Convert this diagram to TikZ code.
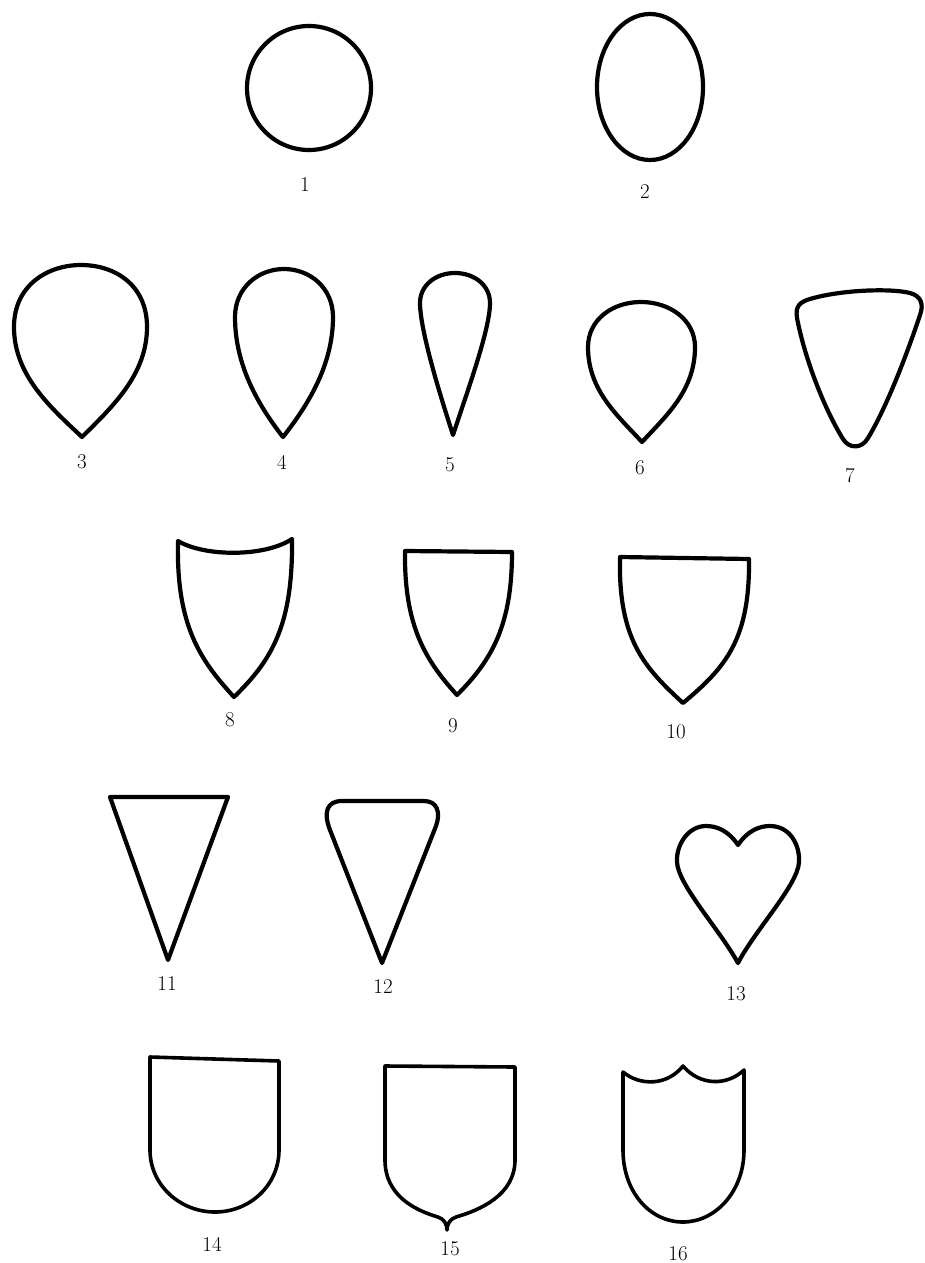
\documentclass[tikz,border=0pt]{standalone}
\begin{document}
\begin{tikzpicture}[x=1pt,y=-1pt,
  outline/.style={draw=black,line width=4.2pt,line join=round},
  thinline/.style={draw=black,line width=3.6pt,line join=round},
  lbl/.style={font=\fontsize{21}{24}\selectfont,inner sep=0pt}]
\useasboundingbox[fill=white] (0,0) rectangle (924,1263);
% row 1
\draw[outline] (309,88) circle [radius=62];
\node[lbl] (l1) at (305,185) {1};
\draw[outline] (650,87) ellipse [x radius=53, y radius=73];
\node[lbl] (l2) at (645,192) {2};
% row 2
\draw[outline] (82,437) .. controls (50,407) and (14,375) .. (14,327)
  .. controls (14,285) and (48,265) .. (81,265)
  .. controls (115,265) and (147,285) .. (147,327)
  .. controls (147,375) and (112,407) .. (82,437) -- cycle;
\node[lbl] (l3) at (82,462) {3};
\draw[outline] (283,437) .. controls (258,405) and (235,365) .. (235,317)
  .. controls (235,288) and (258,269) .. (284,269)
  .. controls (310,269) and (333,288) .. (333,317)
  .. controls (333,365) and (308,405) .. (283,437) -- cycle;
\node[lbl] (l4) at (282,462) {4};
\draw[outline] (453,435) .. controls (440,395) and (420,330) .. (420,303)
  .. controls (420,285) and (436,273) .. (455,273)
  .. controls (474,273) and (490,285) .. (490,303)
  .. controls (490,330) and (466,395) .. (453,435) -- cycle;
\node[lbl] (l5) at (450,465) {5};
\draw[outline] (642,442) .. controls (617,415) and (588,390) .. (588,347)
  .. controls (588,320) and (612,302) .. (641,302)
  .. controls (670,302) and (695,320) .. (695,347)
  .. controls (695,390) and (667,415) .. (642,442) -- cycle;
\node[lbl] (l6) at (640,468) {6};
\draw[outline] (797,318) .. controls (795,306) and (800,302) .. (810,299)
  .. controls (840,290) and (890,288) .. (910,293)
  .. controls (921,296) and (924,304) .. (920,315)
  .. controls (905,360) and (885,410) .. (868,438)
  .. controls (862,449) and (849,449) .. (843,439)
  .. controls (825,410) and (805,360) .. (797,318) -- cycle;
\node[lbl] (l7) at (850,476) {7};
% row 3
\draw[outline] (178,541) .. controls (205,557) and (265,557) .. (292,539)
  .. controls (293,625) and (272,660) .. (234,697)
  .. controls (200,660) and (176,625) .. (178,541) -- cycle;
\node[lbl] (l8) at (230,720) {8};
\draw[outline] (405,551) -- (512,552)
  .. controls (512,625) and (492,660) .. (457,695)
  .. controls (425,660) and (404,625) .. (405,551) -- cycle;
\node[lbl] (l9) at (453,726) {9};
\draw[outline] (620,557) -- (749,559)
  .. controls (750,640) and (725,668) .. (683,703)
  .. controls (645,668) and (618,640) .. (620,557) -- cycle;
\node[lbl] (l10) at (676,732) {10};
% row 4
\draw[outline] (110,797) -- (228,797) -- (168,960) -- cycle;
\node[lbl] (l11) at (167,984) {11};
\draw[outline] (382,963) -- (330,830) .. controls (323,812) and (327,801) .. (342,801)
  -- (424,801) .. controls (437,801) and (441,812) .. (436,826) -- cycle;
\node[lbl] (l12) at (383,987) {12};
\draw[outline] (738,845) .. controls (748,830) and (760,826) .. (770,826)
  .. controls (790,826) and (800,845) .. (799,862)
  .. controls (798,885) and (755,930) .. (738,963)
  .. controls (720,930) and (678,885) .. (677,862)
  .. controls (676,845) and (688,826) .. (706,826)
  .. controls (716,826) and (728,830) .. (738,845) -- cycle;
\node[lbl] (l13) at (736,994) {13};
% row 5
\draw[thinline] (150,1057) -- (279,1061) -- (279,1150)
  .. controls (279,1185) and (250,1212) .. (215,1212)
  .. controls (180,1212) and (150,1185) .. (150,1150) -- cycle;
\node[lbl] (l14) at (212,1244) {14};
\draw[thinline] (385,1066) -- (515,1067) -- (515,1160)
  .. controls (515,1195) and (480,1210) .. (456,1217)
  .. controls (450,1219) and (447,1224) .. (447,1230)
  .. controls (447,1224) and (444,1219) .. (438,1217)
  .. controls (414,1210) and (385,1195) .. (385,1160) -- cycle;
\node[lbl] (l15) at (450,1249) {15};
\draw[thinline] (623,1072) .. controls (640,1086) and (667,1086) .. (683,1066)
  .. controls (700,1086) and (727,1086) .. (744,1070)
  -- (744,1150) .. controls (744,1192) and (715,1222) .. (683,1222)
  .. controls (650,1222) and (623,1192) .. (623,1150) -- cycle;
\node[lbl] (l16) at (678,1254) {16};
\end{tikzpicture}
\end{document}
